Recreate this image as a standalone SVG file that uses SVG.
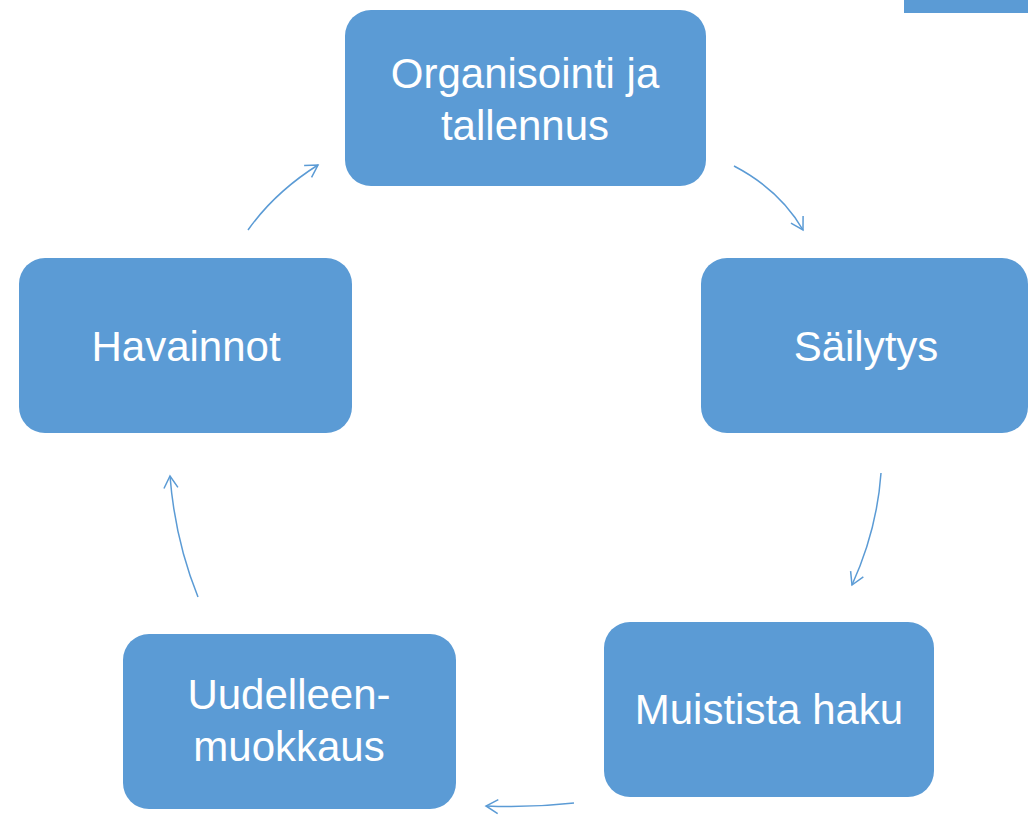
<svg xmlns="http://www.w3.org/2000/svg" width="1028" height="816" viewBox="0 0 1028 816">
<style>
.box{fill:#5B9BD5;}
.lbl{fill:#FFFFFF;font-family:"Liberation Sans","Open Sans",sans-serif;font-size:42px;text-anchor:middle;}
.arc{fill:none;stroke:#5B9BD5;stroke-width:1.5;marker-end:url(#ah);}
</style>
<defs>
<marker id="ah" viewBox="0 0 20 20" refX="16" refY="10" markerWidth="20" markerHeight="20" markerUnits="userSpaceOnUse" orient="auto">
<path d="M4,3 L16,10 L4,17" fill="none" stroke="#5B9BD5" stroke-width="1.5"/>
</marker>
</defs>
<rect x="0" y="0" width="1028" height="816" fill="#FFFFFF"/>
<rect x="904" y="0" width="124" height="13" fill="#5B9BD5"/>
<g id="connectors">
<path class="arc" d="M248,230 Q275,192 318,165"/>
<path class="arc" d="M734,166 Q780,190 803,230"/>
<path class="arc" d="M881,473 Q877,530 852,585"/>
<path class="arc" d="M574,803 Q530,808 486,806"/>
<path class="arc" d="M198,597 Q175,540 170,476"/>
</g>
<g id="organisointi">
<rect class="box" x="345" y="10" width="361" height="176" rx="26"/>
<text class="lbl" x="525" y="88">Organisointi ja</text>
<text class="lbl" x="525" y="140">tallennus</text>
</g>
<g id="sailytys">
<rect class="box" x="701" y="258" width="327" height="175" rx="26"/>
<text class="lbl" x="866" y="361">Säilytys</text>
</g>
<g id="havainnot">
<rect class="box" x="19" y="258" width="333" height="175" rx="26"/>
<text class="lbl" x="186" y="361">Havainnot</text>
</g>
<g id="muistista">
<rect class="box" x="604" y="622" width="330" height="175" rx="26"/>
<text class="lbl" x="769" y="724">Muistista haku</text>
</g>
<g id="uudelleen">
<rect class="box" x="123" y="634" width="333" height="175" rx="26"/>
<text class="lbl" x="289" y="709">Uudelleen-</text>
<text class="lbl" x="289" y="761">muokkaus</text>
</g>
</svg>
